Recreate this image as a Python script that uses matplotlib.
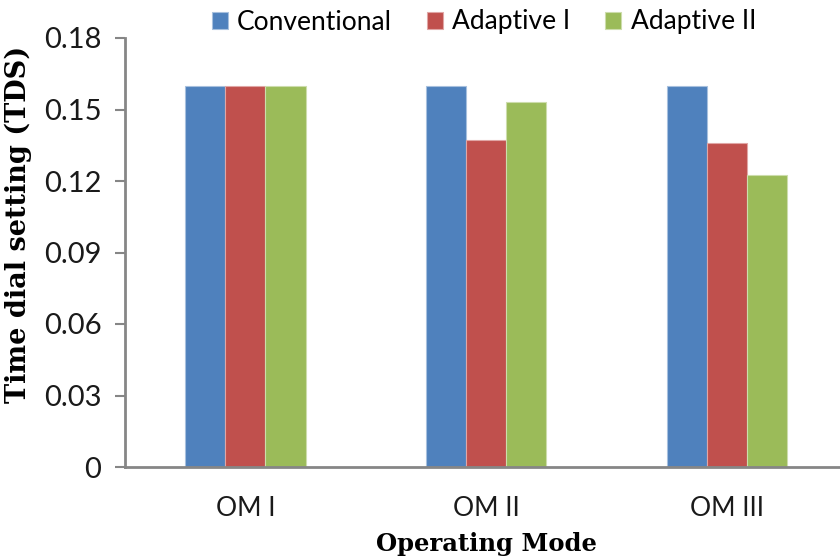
import matplotlib.pyplot as plt
import numpy as np

modes = ["OM I", "OM II", "OM III"]
series = ["Conventional", "Adaptive I", "Adaptive II"]
conventional = [0.160, 0.160, 0.160]
adaptive_1 = [0.160, 0.137, 0.136]
adaptive_2 = [0.160, 0.153, 0.1225]
couleurs = ["#4F81BD", "#C0504D", "#9BBB59"]
bords = ["#A7C0DE", "#E0A6A5", "#CDDDAC"]

valeurs = [conventional, adaptive_1, adaptive_2]

fig = plt.figure(figsize=(8.4, 5.57), dpi=100)
ax = fig.add_axes([125 / 840, 90 / 557, 722 / 840, 429 / 557])

x = np.arange(len(modes))
largeur = 1 / 6
for i in range(len(series)):
    ax.bar(x + (i - 1) * largeur, valeurs[i], largeur, color=couleurs[i],
           edgecolor=bords[i], linewidth=0.8, label=series[i], zorder=2)

ax.set_xlim(-0.5, 2.5)
ax.set_ylim(0, 0.18)
ax.set_yticks(np.arange(0, 0.181, 0.03))
ax.set_yticklabels(["0", "0.03", "0.06", "0.09", "0.12", "0.15", "0.18"],
                   fontfamily="Lato", fontsize=21, color="#1a1a1a")
ax.set_xticks(x)
ax.set_xticklabels(modes, fontfamily="Lato", fontsize=19, color="#1a1a1a")
ax.tick_params(axis="x", length=0, pad=21)
ax.tick_params(axis="y", length=7, width=1.5, color="#868686", pad=10)

for cote in ["top", "right"]:
    ax.spines[cote].set_visible(False)
for cote in ["left", "bottom"]:
    ax.spines[cote].set_color("#868686")
    ax.spines[cote].set_linewidth(2)

ax.set_ylabel("Time dial setting (TDS)", fontfamily="DejaVu Serif", fontweight="bold",
              fontsize=19.5)
ax.yaxis.set_label_coords(-93 / 722, 0.566)
ax.set_xlabel("Operating Mode", fontfamily="DejaVu Serif", fontweight="bold",
              fontsize=17.5, labelpad=8)

leg = ax.legend(loc="center left", bbox_to_anchor=(212 / 840, 1 - 22 / 557),
                bbox_transform=fig.transFigure, ncol=3, frameon=False,
                prop={"family": "Lato", "size": 19}, handlelength=0.6, handleheight=0.6,
                handletextpad=0.35, columnspacing=1.33, borderaxespad=0, borderpad=0)

fig.savefig("out.png", dpi=100)
plt.close(fig)
